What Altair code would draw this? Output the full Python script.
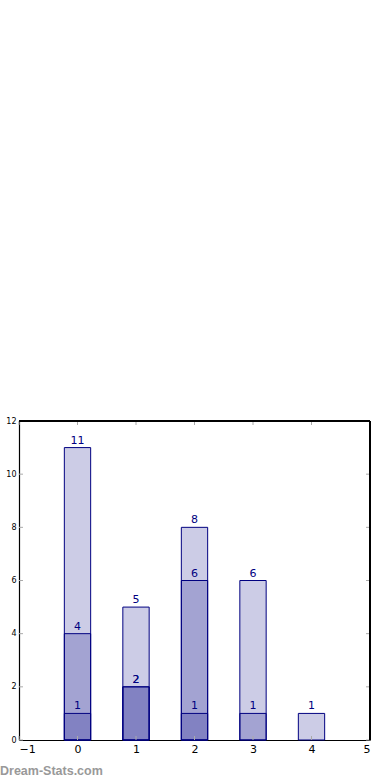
import altair as alt
import pandas as pd

categories = [0, 1, 2, 3, 4]
series_a = [11, 5, 8, 6, 1]
series_b = [4, 2, 6, 1, None]
series_c = [1, 2, 1, None, None]
x_ticks = [-1, 0, 1, 2, 3, 4, 5]
y_ticks = [0, 2, 4, 6, 8, 10, 12]

rows = []
for name, vals in [("a", series_a), ("b", series_b), ("c", series_c)]:
    for c, v in zip(categories, vals):
        if v is not None:
            rows.append({"series": name, "cat": c, "value": v})
df = pd.DataFrame(rows)

W, H = 351, 319
NAVY = "#000080"
xs = alt.Scale(domain=[-1, 5], nice=False, zero=False)
ys = alt.Scale(domain=[0, 12], nice=False)

base = alt.Chart(df)
bars = base.mark_bar(fill=NAVY, fillOpacity=0.2, stroke=NAVY, strokeWidth=1).transform_calculate(
    x0="datum.cat - 0.225", x1="datum.cat + 0.225"
).encode(
    x=alt.X("x0:Q", scale=xs, axis=alt.Axis(values=x_ticks, format="d", title=None, ticks=False,
                                            domain=True, domainColor="black", domainWidth=1.2,
                                            grid=False, labelFontSize=11, labelPadding=3,
                                            labelColor="black", labelFont="DejaVu Sans")),
    x2="x1:Q",
    y=alt.Y("value:Q", scale=ys, axis=alt.Axis(values=y_ticks, format="d", title=None, ticks=False,
                                               domain=True, domainColor="black", domainWidth=1.2,
                                               grid=False, labelFontSize=8, labelPadding=3,
                                               labelColor="black", labelFont="DejaVu Sans")),
    y2=alt.datum(0),
)
labels = base.mark_text(color=NAVY, fontSize=11, baseline="bottom", dy=-2, font="DejaVu Sans").encode(
    x=alt.X("cat:Q", scale=xs), y=alt.Y("value:Q", scale=ys), text="value:Q"
)

xt = pd.DataFrame({"t": x_ticks})
yt = pd.DataFrame({"t": y_ticks})
tick_color = "#aaaaaa"
xb = alt.Chart(xt).mark_rule(color=tick_color).encode(x=alt.X("t:Q", scale=xs), y=alt.value(H), y2=alt.value(H - 4))
xtp = alt.Chart(xt).mark_rule(color=tick_color).encode(x=alt.X("t:Q", scale=xs), y=alt.value(0), y2=alt.value(4))
yl = alt.Chart(yt).mark_rule(color=tick_color).encode(y=alt.Y("t:Q", scale=ys), x=alt.value(0), x2=alt.value(4))
yr = alt.Chart(yt).mark_rule(color=tick_color).encode(y=alt.Y("t:Q", scale=ys), x=alt.value(W), x2=alt.value(W - 4))

frame_top = alt.Chart(xt).mark_rule(color="black", strokeWidth=1.2).encode(
    x=alt.value(0), x2=alt.value(W), y=alt.value(0))
frame_right = alt.Chart(xt).mark_rule(color="black", strokeWidth=1.2).encode(
    x=alt.value(W), y=alt.value(0), y2=alt.value(H))

wm = alt.Chart(pd.DataFrame({"s": ["Dream-Stats.com"]})).mark_text(
    color="#999999", fontSize=12.5, fontWeight="bold", align="left", baseline="alphabetic",
    font="Liberation Sans"
).encode(x=alt.value(-19), y=alt.value(H + 35), text="s:N")

chart = alt.layer(bars, xb, xtp, yl, yr, frame_top, frame_right, labels, wm).properties(
    width=W, height=H,
    autosize=alt.AutoSizeParams(type="none"),
    padding={"left": 19, "top": 421, "right": 20, "bottom": 40},
).configure_view(stroke=None).configure(background="white")

chart.save("out.html", embed_options={"renderer": "svg", "actions": False})
